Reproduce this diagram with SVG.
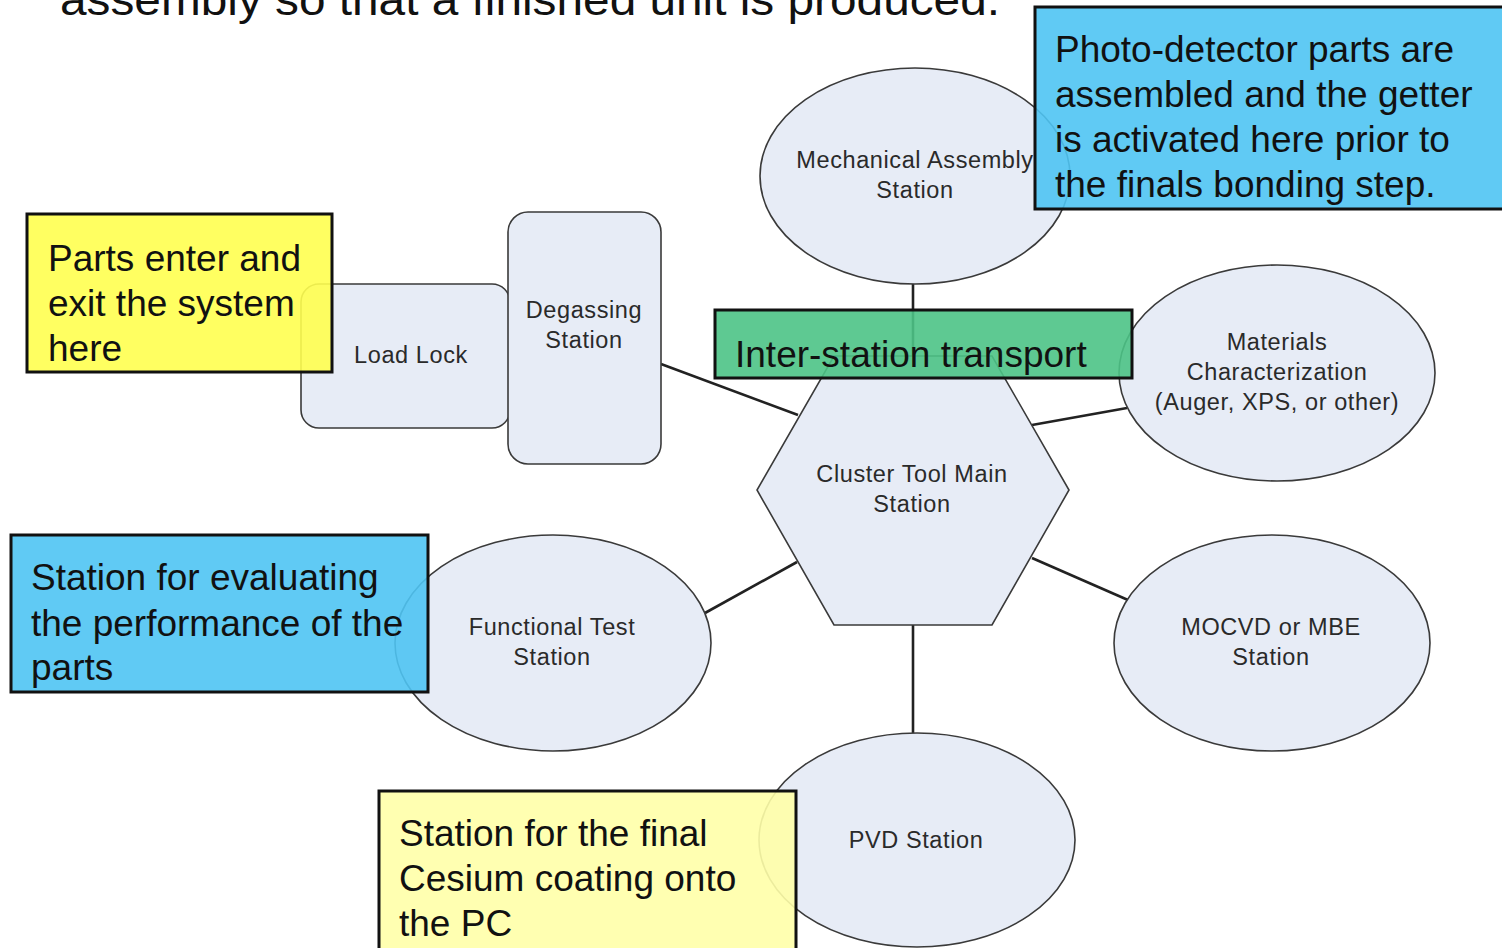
<svg xmlns="http://www.w3.org/2000/svg" width="1502" height="948" viewBox="0 0 1502 948">
<style>
.node{fill:#E7ECF6;stroke:#3a3a3a;stroke-width:1.6}
.lbl{font-family:"Liberation Sans",Arial,sans-serif;font-size:23.5px;fill:#2a2a2a;text-anchor:middle;letter-spacing:0.6px}
.conn{stroke:#222;stroke-width:2.6;fill:none}
.call{stroke:#111;stroke-width:3;fill-opacity:0.9}
.ctext{font-family:"Liberation Sans",Arial,sans-serif;font-size:37px;fill:#111}
</style>
<rect width="1502" height="948" fill="#fff"/>
<text x="60" y="15" font-family="'Liberation Sans',Arial,sans-serif" font-size="44" fill="#111" textLength="940" lengthAdjust="spacingAndGlyphs">assembly so that a finished unit is produced.</text>
<g id="connectors">
<line class="conn" x1="913" y1="284" x2="913" y2="356"/>
<line class="conn" x1="661" y1="364" x2="798" y2="415"/>
<line class="conn" x1="1032" y1="425" x2="1127" y2="408"/>
<line class="conn" x1="1032" y1="558" x2="1128" y2="600"/>
<line class="conn" x1="705" y1="613" x2="797" y2="562"/>
<line class="conn" x1="913" y1="625" x2="913" y2="733"/>
</g>
<g id="mech">
<ellipse class="node" cx="915" cy="176" rx="155" ry="108"/>
<text class="lbl" x="915" y="168">Mechanical Assembly</text>
<text class="lbl" x="915" y="198">Station</text>
</g>
<g id="loadlock">
<rect class="node" x="301" y="284" width="209" height="144" rx="18"/>
<text class="lbl" x="411" y="363">Load Lock</text>
</g>
<g id="degas">
<rect class="node" x="508" y="212" width="153" height="252" rx="20"/>
<text class="lbl" x="584" y="318">Degassing</text>
<text class="lbl" x="584" y="348">Station</text>
</g>
<g id="hub">
<polygon class="node" points="834,356 992,356 1069,490 992,625 834,625 757,490"/>
<text class="lbl" x="912" y="482">Cluster Tool Main</text>
<text class="lbl" x="912" y="512">Station</text>
</g>
<g id="materials">
<ellipse class="node" cx="1277" cy="373" rx="158" ry="108"/>
<text class="lbl" x="1277" y="350">Materials</text>
<text class="lbl" x="1277" y="380">Characterization</text>
<text class="lbl" x="1277" y="410">(Auger, XPS, or other)</text>
</g>
<g id="mocvd">
<ellipse class="node" cx="1272" cy="643" rx="158" ry="108"/>
<text class="lbl" x="1271" y="635">MOCVD or MBE</text>
<text class="lbl" x="1271" y="665">Station</text>
</g>
<g id="functest">
<ellipse class="node" cx="553" cy="643" rx="158" ry="108"/>
<text class="lbl" x="552" y="635">Functional Test</text>
<text class="lbl" x="552" y="665">Station</text>
</g>
<g id="pvd">
<ellipse class="node" cx="917" cy="840" rx="158" ry="107"/>
<text class="lbl" x="916" y="848">PVD Station</text>
</g>
<g id="callout-load">
<rect class="call" x="27" y="214" width="305" height="158" fill="#FFFF50"/>
<text class="ctext" x="48" y="271">Parts enter and</text>
<text class="ctext" x="48" y="316">exit the system</text>
<text class="ctext" x="48" y="361">here</text>
</g>
<g id="callout-mech">
<rect class="call" x="1035" y="7" width="475" height="202" fill="#4FC4F3"/>
<text class="ctext" x="1055" y="62">Photo-detector parts are</text>
<text class="ctext" x="1055" y="107">assembled and the getter</text>
<text class="ctext" x="1055" y="152">is activated here prior to</text>
<text class="ctext" x="1055" y="197">the finals bonding step.</text>
</g>
<g id="callout-transport">
<rect class="call" x="715" y="310" width="417" height="68" fill="#4CC386"/>
<text class="ctext" x="735" y="367">Inter-station transport</text>
</g>
<g id="callout-test">
<rect class="call" x="11" y="535" width="417" height="157" fill="#4FC4F3"/>
<text class="ctext" x="31" y="590">Station for evaluating</text>
<text class="ctext" x="31" y="636">the performance of the</text>
<text class="ctext" x="31" y="680">parts</text>
</g>
<g id="callout-pvd">
<rect class="call" x="379" y="791" width="417" height="170" fill="#FFFFA8"/>
<text class="ctext" x="399" y="846">Station for the final</text>
<text class="ctext" x="399" y="891">Cesium coating onto</text>
<text class="ctext" x="399" y="936">the PC</text>
</g>
</svg>
